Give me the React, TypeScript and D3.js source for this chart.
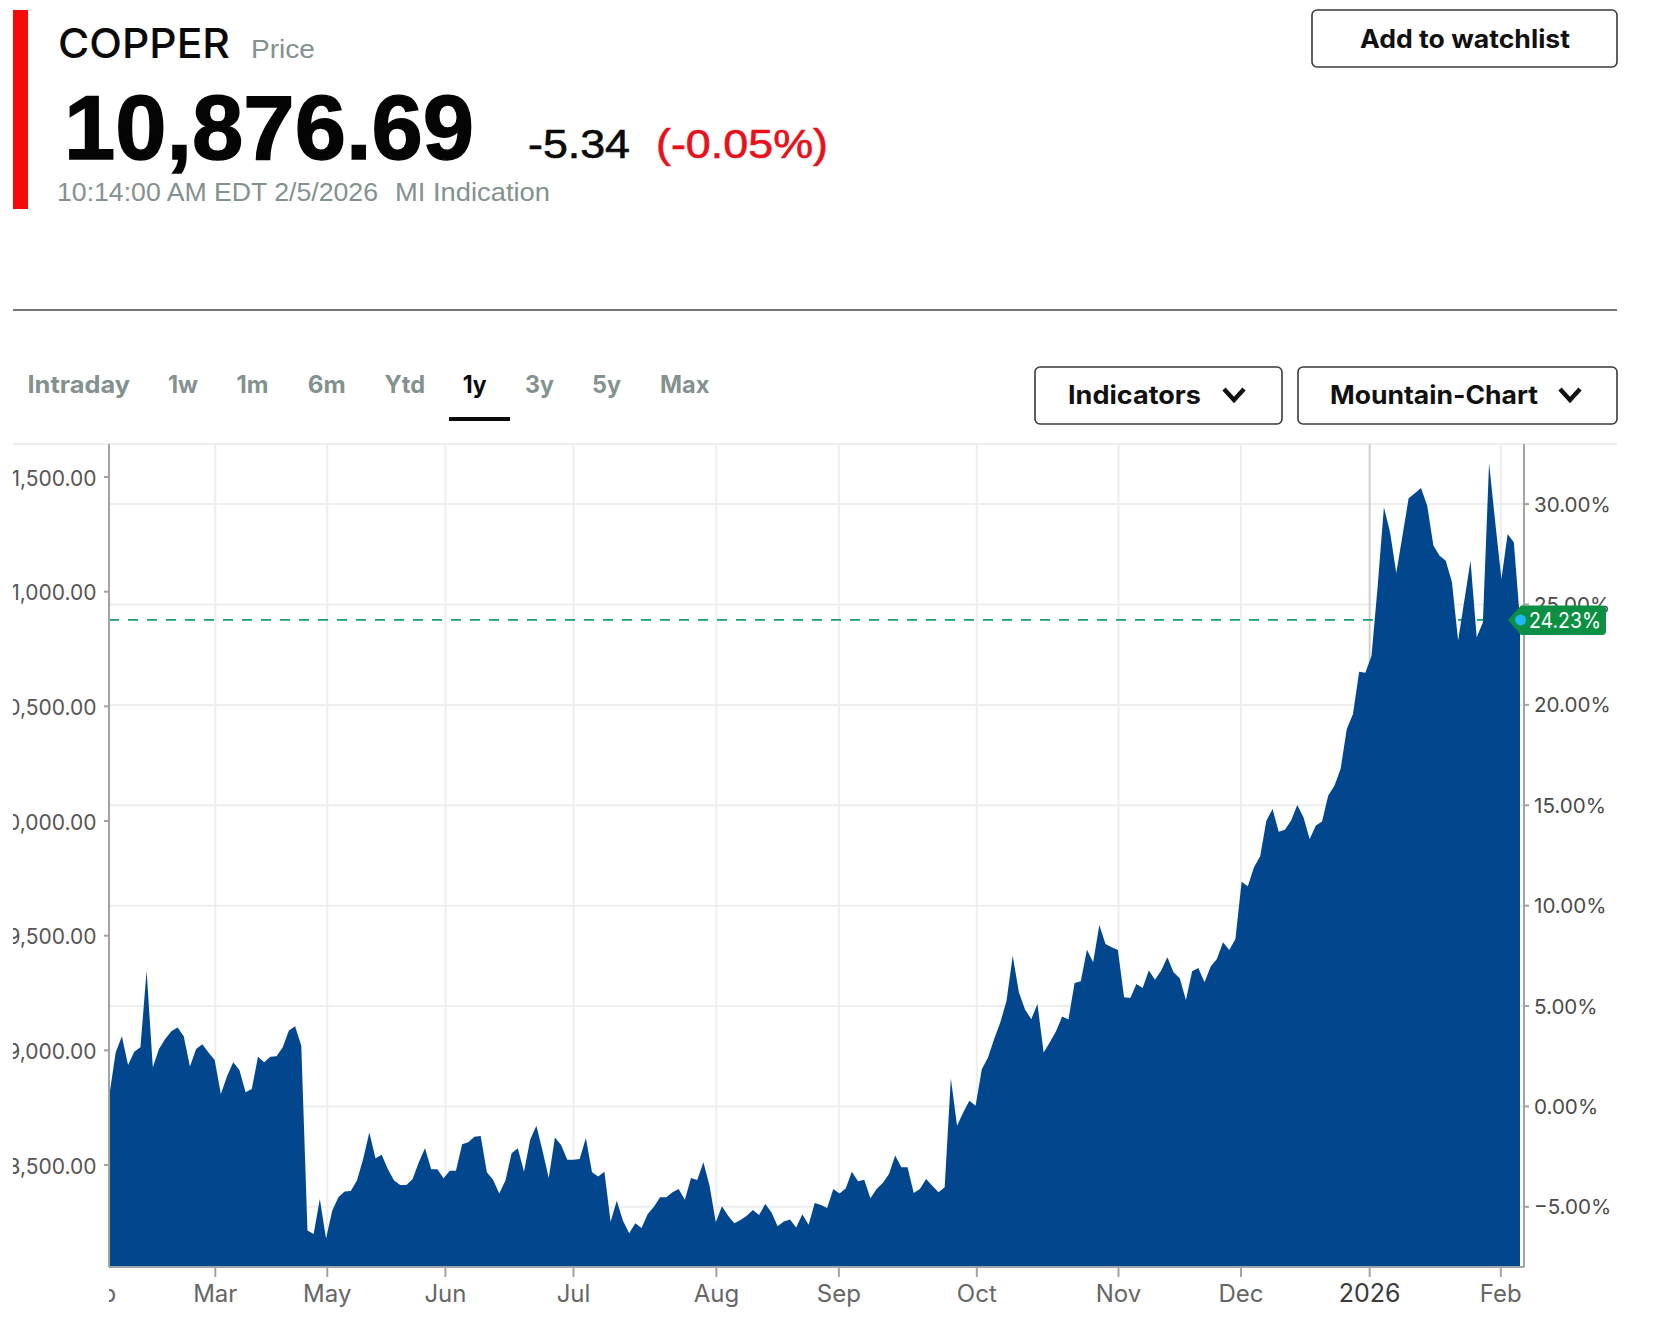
import React from "react";
import * as d3 from "d3";

const prices: number[] = [
  8810,8991,9061,8936,8994,9013,9347,8926,9006,9049,9083,9100,9061,8930,9006,9026,8991,8958,8810,8887,
  8948,8914,8817,8831,8972,8948,8972,8974,9013,9086,9105,9020,8214,8199,8352,8180,8301,8359,
  8384,8387,8432,8526,8642,8529,8545,8482,8432,8413,8413,8439,8512,8573,8482,8481,8442,8475,8475,8591,
  8599,8623,8626,8468,8436,8376,8432,8551,8573,8471,8610,8671,8562,8443,8620,8587,8523,8523,
  8526,8618,8468,8450,8471,8253,8344,8257,8202,8246,8225,8286,8318,8359,8359,8381,8395,8349,8443,8435,
  8512,8410,8250,8320,8279,8246,8260,8279,8304,8282,8330,8294,8233,8254,8262,8228,8285,8240,8334,
  8326,8312,8395,8376,8398,8471,8429,8436,8355,8395,8421,8461,8541,8490,8490,8378,8395,8439,8410,8381,
  8403,8878,8671,8729,8780,8758,8918,8969,9049,9122,9216,9412,9253,9177,9136,9202,8991,9035,
  9083,9147,9134,9294,9301,9439,9384,9547,9464,9449,9438,9231,9228,9289,9272,9348,9308,9348,9406,9340,
  9314,9220,9345,9359,9297,9366,9398,9471,9438,9486,9735,9715,9798,9846,10001,10052,9953,9962,
  10002,10070,10016,9922,9980,9998,10111,10154,10227,10401,10467,10651,10646,10721,11026,11368,11259,11081,
  11244,11407,11429,11452,11375,11201,11157,11135,11041,10787,10961,11135,10801,10866,11561,11302,11055,
  11251,11215,10876.69,
];

const monthLabels = ["Feb", "Mar", "May", "Jun", "Jul", "Aug", "Sep", "Oct", "Nov", "Dec", "2026", "Feb"];
const monthSessions = [-2.3, 17.1, 35.2, 54.3, 75, 98.1, 117.9, 140.2, 163.1, 182.9, 203.7, 224.9];
const priceTicks = [8500, 9000, 9500, 10000, 10500, 11000, 11500];
const pctTicks = [-5, 0, 5, 10, 15, 20, 25, 30];
const lastPrice = 10876.69;
const lastPct = 24.23;
const tabs = ["Intraday", "1w", "1m", "6m", "Ytd", "1y", "3y", "5y", "Max"];
const tabStart = [27.5, 168, 236.5, 307.7, 384.6, 462.7, 525, 592, 660];
const tabWidth = [102.5, 30, 32, 38, 40.5, 24, 29, 29, 49.5];

const W = 1667, H = 1328;
const L = 109, R = 1524, T = 444, B = 1267;
const BLUE = "#02478E", GRID = "#EEEEEE", AXIS = "#A3A3A3", GREY = "#83918F";
const SANS = "'Liberation Sans', Arial, sans-serif";
const INTER = "Inter, 'Liberation Sans', sans-serif";

const x = d3.scaleLinear().domain([0, prices.length - 1]).range([109.5, 1520]);
const y = d3.scaleLinear().domain([8500, 11500]).range([1165, 477]);
const basePrice = lastPrice / (1 + lastPct / 100);
const yPct = (p: number) => y(basePrice * (1 + p / 100));

const areaPath = d3.area<number>()
  .x((_, i) => x(i))
  .y0(B)
  .y1((d) => y(d))(prices) as string;

const fmtPrice = d3.format(",.2f");
const fmtPct = d3.format(".2f");

function Button({ x0, x1, y0, y1 }: { x0: number; x1: number; y0: number; y1: number }) {
  return <rect x={x0} y={y0} width={x1 - x0} height={y1 - y0} rx={5} fill="#fff" stroke="#3a3a3a" strokeWidth={1.6} />;
}

function Chevron({ x0, x1, y0, y1 }: { x0: number; x1: number; y0: number; y1: number }) {
  const d = `M${x0 + 2},${y0 + 1}L${(x0 + x1) / 2},${y1 - 2}L${x1 - 2},${y0 + 1}`;
  return <path d={d} fill="none" stroke="#111" strokeWidth={4.4} />;
}

export default function App() {
  const tagY = y(lastPrice);
  return (
    <svg width={W} height={H} viewBox={`0 0 ${W} ${H}`} style={{ position: "absolute", left: 0, top: 0, background: "#fff" }}>
      <defs>
        <clipPath id="leftClip"><rect x={13} y={440} width={100} height={780} /></clipPath>
        <clipPath id="botClip"><rect x={109} y={1270} width={1500} height={50} /></clipPath>
      </defs>

      {/* header */}
      <rect x={13} y={10} width={15} height={199} fill="#F50A0A" />
      <text x={58} y={58} fontFamily={INTER} fontWeight={500} fontSize={41} fill="#0a0a0a" textLength={172} lengthAdjust="spacingAndGlyphs">COPPER</text>
      <text x={251} y={58} fontFamily={SANS} fontSize={25} fill={GREY} textLength={64} lengthAdjust="spacingAndGlyphs">Price</text>
      <text x={64} y={159} fontFamily={SANS} fontWeight={700} fontSize={90} fill="#050505" stroke="#050505" strokeWidth={1.4} textLength={410} lengthAdjust="spacingAndGlyphs">10,876.69</text>
      <text x={528} y={158} fontFamily={SANS} fontSize={40} fill="#0a0a0a" stroke="#0a0a0a" strokeWidth={0.6} textLength={102} lengthAdjust="spacingAndGlyphs">-5.34</text>
      <text x={656} y={158} fontFamily={SANS} fontSize={40} fill="#E8101A" stroke="#E8101A" strokeWidth={0.6} textLength={172} lengthAdjust="spacingAndGlyphs">(-0.05%)</text>
      <text x={57} y={201} fontFamily={SANS} fontSize={26} fill={GREY} textLength={321} lengthAdjust="spacingAndGlyphs">10:14:00 AM EDT 2/5/2026</text>
      <text x={395} y={201} fontFamily={SANS} fontSize={26} fill={GREY} textLength={155} lengthAdjust="spacingAndGlyphs">MI Indication</text>

      <Button x0={1312} x1={1617} y0={10} y1={67} />
      <text x={1360} y={48} fontFamily={INTER} fontWeight={700} fontSize={25} fill="#111" textLength={210} lengthAdjust="spacingAndGlyphs">Add to watchlist</text>

      <line x1={13} x2={1617} y1={310} y2={310} stroke="#444" strokeWidth={1.6} />

      {/* range tabs */}
      {tabs.map((t, i) => (
        <text key={t} x={tabStart[i]} y={393} fontFamily={INTER} fontWeight={700} fontSize={24}
          fill={t === "1y" ? "#0a0a0a" : GREY} textLength={tabWidth[i]} lengthAdjust="spacingAndGlyphs">{t}</text>
      ))}
      <rect x={449} y={417} width={61} height={4} fill="#0a0a0a" />

      <Button x0={1035} x1={1282} y0={367} y1={424} />
      <text x={1068} y={404} fontFamily={INTER} fontWeight={700} fontSize={25} fill="#111" textLength={133} lengthAdjust="spacingAndGlyphs">Indicators</text>
      <Chevron x0={1222} x1={1246} y0={388} y1={402} />
      <Button x0={1298} x1={1617} y0={367} y1={424} />
      <text x={1330} y={404} fontFamily={INTER} fontWeight={700} fontSize={25} fill="#111" textLength={208} lengthAdjust="spacingAndGlyphs">Mountain-Chart</text>
      <Chevron x0={1558} x1={1582} y0={388} y1={402} />

      {/* grid */}
      <line x1={13} x2={1617} y1={T} y2={T} stroke={GRID} strokeWidth={2} />
      {pctTicks.map((p) => (
        <line key={p} x1={L} x2={R} y1={yPct(p)} y2={yPct(p)} stroke={GRID} strokeWidth={2} />
      ))}
      {monthSessions.slice(1).map((s, i) => (
        <line key={i} x1={x(s)} x2={x(s)} y1={T} y2={B} stroke={monthLabels[i + 1] === "2026" ? "#CFCFCF" : GRID} strokeWidth={2} />
      ))}

      {/* last value line */}
      <line x1={L} x2={1520} y1={tagY} y2={tagY} stroke="#12A070" strokeWidth={1.8} strokeDasharray="10 9" />

      {/* mountain */}
      <path d={areaPath} fill={BLUE} />

      {/* axes */}
      <line x1={L} x2={L} y1={T} y2={B} stroke={AXIS} strokeWidth={2} />
      <line x1={R} x2={R} y1={T} y2={B} stroke={AXIS} strokeWidth={2} />
      <line x1={L} x2={R} y1={B} y2={B} stroke={AXIS} strokeWidth={2} />

      <g clipPath="url(#leftClip)">
        {priceTicks.map((p) => (
          <text key={p} x={96.5} y={y(p) + 8.5} textAnchor="end" fontFamily={INTER} fontSize={21} fill="#555">{fmtPrice(p)}</text>
        ))}
      </g>
      {priceTicks.map((p) => (
        <line key={p} x1={104} x2={L} y1={y(p)} y2={y(p)} stroke={AXIS} strokeWidth={2} />
      ))}

      {pctTicks.map((p) => (
        <g key={p}>
          <line x1={R} x2={R + 5} y1={yPct(p)} y2={yPct(p)} stroke={AXIS} strokeWidth={2} />
          <text x={1534} y={yPct(p) + 7.5} fontFamily={INTER} fontSize={20.6} fill="#4a4a4a">{fmtPct(p)}%</text>
        </g>
      ))}

      <g clipPath="url(#botClip)">
        {monthLabels.map((m, i) => (
          <text key={i} x={x(monthSessions[i])} y={1302} textAnchor="middle" fontFamily={INTER} fontSize={m === "2026" ? 25 : 24}
            fill={m === "2026" ? "#3a3a3a" : "#666"}>{m}</text>
        ))}
      </g>
      {monthSessions.slice(1).map((s, i) => (
        <line key={i} x1={x(s)} x2={x(s)} y1={B} y2={B + 10} stroke={AXIS} strokeWidth={2} />
      ))}

      {/* last value tag */}
      <path d={`M1508,${tagY}L1521,${tagY - 14.5}H1602Q1606,${tagY - 14.5} 1606,${tagY - 10.5}V${tagY + 11}Q1606,${tagY + 15} 1602,${tagY + 15}H1521Z`} fill="#0B8F43" />
      <circle cx={1520.6} cy={tagY} r={5.5} fill="#1CB8F2" />
      <text x={1529} y={tagY + 8} fontFamily={INTER} fontSize={21.5} fill="#fff" textLength={72} lengthAdjust="spacingAndGlyphs">{fmtPct(lastPct)}%</text>
    </svg>
  );
}
